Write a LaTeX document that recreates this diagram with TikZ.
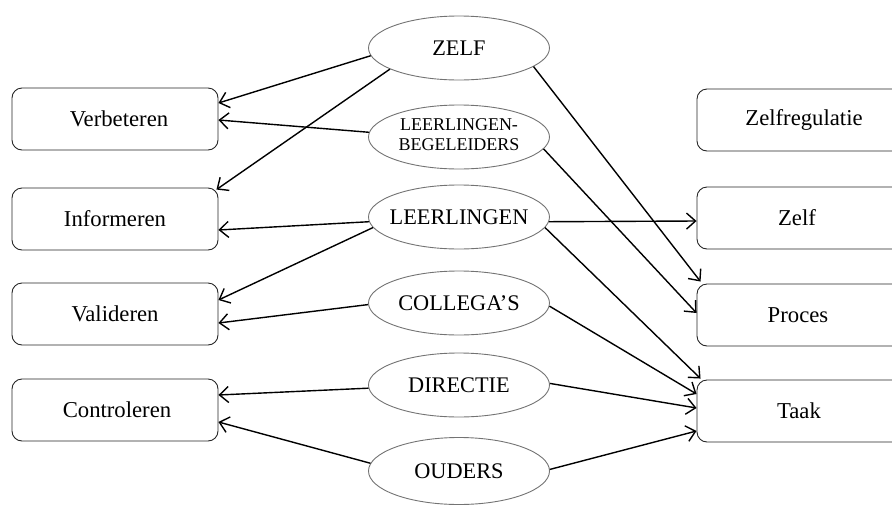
\documentclass[tikz,border=0pt]{standalone}
\usepackage{fontspec}
\setmainfont{Liberation Serif}
\usetikzlibrary{shapes.geometric,arrows.meta,calc}
\newcommand{\zerow}[1]{\makebox[0pt][c]{#1}}
\begin{document}
\begin{tikzpicture}[x=1pt,y=-1pt,
  oval/.style={ellipse,draw=black!55,line width=0.9pt,minimum width=181pt,minimum height=64pt,inner sep=0pt,font=\fontsize{22.3}{25}\selectfont},
  rbox/.style={rectangle,rounded corners=10pt,draw=black!85,line width=0.9pt,minimum width=206pt,minimum height=62pt,inner sep=0pt,font=\fontsize{22.7}{25}\selectfont},
  arr/.style={line width=1.4pt,-{Straight Barb[length=9pt,width=16pt,line width=1.4pt]}}]
\useasboundingbox (0,0) rectangle (892,504);
% left boxes
\node[rbox] (verb) at (115,119) {\hspace*{8pt}Verbeteren};
\node[rbox] (inf) at (115,219) {Informeren};
\node[rbox] (val) at (115,314) {Valideren};
\node[rbox] (con) at (115,410) {\hspace*{4pt}Controleren};
% right boxes
\node[rbox] (zreg) at (800,120) {\hspace*{8pt}Zelfregulatie};
\node[rbox] (zelfb) at (800,218) {\hspace*{-6pt}Zelf};
\node[rbox] (proc) at (800,315) {\hspace*{-4pt}Proces};
\node[rbox] (taak) at (800,411) {\hspace*{-2pt}Taak};
% ellipses
\node[oval] (zelf) at (459,48) {\zerow{ZELF}};
\node[oval,font=\fontsize{18}{18.5}\selectfont] (lb) at (459,137) {\zerow{\begin{tabular}{@{}c@{}}LEERLINGEN-\\[1.5pt]BEGELEIDERS\end{tabular}}};
\node[oval] (leer) at (459,217) {\zerow{LEERLINGEN}};
\node[oval] (coll) at (459,303) {\zerow{COLLEGA’S}};
\node[oval] (dir) at (459,385) {\zerow{DIRECTIE}};
\node[oval,minimum height=67pt] (oud) at (459,471) {\zerow{OUDERS}};
% connectors
\draw[arr] (zelf.185) -- ($(verb.east)+(0,-16)$);
\draw[arr] (zelf.197) -- ($(inf.north east)+(-2,2)$);
\draw[arr] (zelf.346) -- ($(proc.north west)+(4,-2)$);
\draw[arr] (lb.177) -- ($(verb.east)+(0,1)$);
\draw[arr] (lb.352) -- ($(proc.west)+(0,-2)$);
\draw[arr] (leer.183) -- ($(inf.east)+(0,11)$);
\draw[arr] (leer.357) -- ($(zelfb.west)+(0,3)$);
\draw[arr] (leer.187) -- ($(val.east)+(0,-14)$);
\draw[arr] (leer.353) -- ($(taak.north west)+(4,-1)$);
\draw[arr] (coll.181) -- ($(val.east)+(0,9)$);
\draw[arr] (coll.358) -- ($(taak.west)+(0,-17)$);
\draw[arr] (dir.182) -- ($(con.east)+(0,-15)$);
\draw[arr] (dir.1) -- ($(taak.west)+(0,-3)$);
\draw[arr] (oud.175) -- ($(con.east)+(0,12)$);
\draw[arr] (oud.1) -- ($(taak.west)+(0,20)$);
\end{tikzpicture}
\end{document}
